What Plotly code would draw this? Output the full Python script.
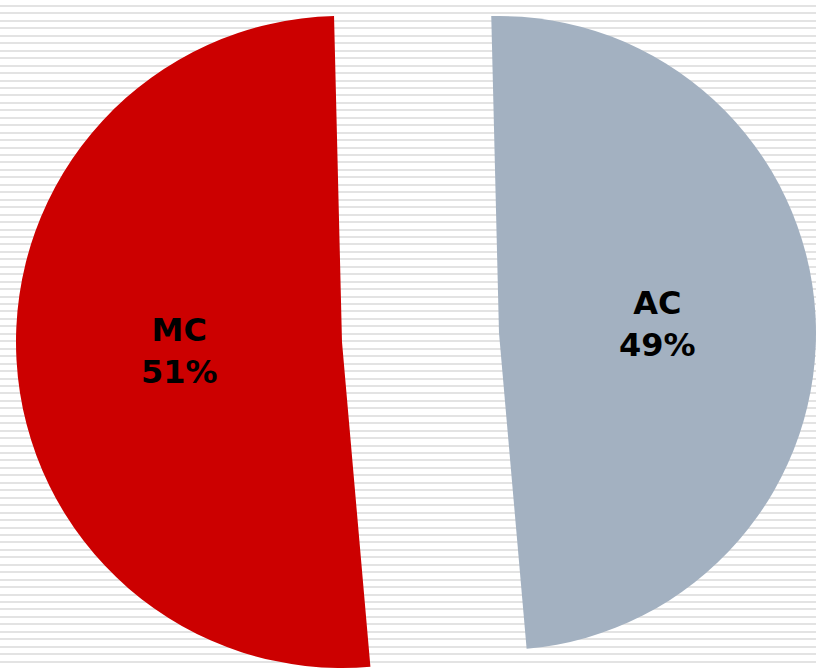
import plotly.graph_objects as go

labels = ["MC", "AC"]
values = [51, 49]
colors = ["#CC0000", "#A3B1C1"]

W, H = 816, 668
fig = go.Figure()

# invisible trace to hold the striped background axes
fig.add_trace(go.Scatter(x=[0], y=[0], mode="markers", marker=dict(opacity=0),
                         hoverinfo="skip", showlegend=False))

def pie_for(idx, cx, cy, r):
    cols = [c if i == idx else "rgba(0,0,0,0)" for i, c in enumerate(colors)]
    tmpl = ["<b>%{label}<br>%{percent:.0%}</b>" if i == idx else "" for i in range(len(labels))]
    return go.Pie(
        labels=labels, values=values, sort=False, direction="counterclockwise",
        rotation=175,
        marker=dict(colors=cols, line=dict(width=0)),
        texttemplate=tmpl, textposition="inside", insidetextorientation="horizontal",
        textfont=dict(family="DejaVu Sans", size=32, color="black"),
        hoverinfo="skip", showlegend=False,
        domain=dict(x=[(cx - r) / W, (cx + r) / W], y=[1 - (cy + r) / H, 1 - (cy - r) / H]),
    )

fig.add_trace(pie_for(0, 342, 342, 326))
fig.add_trace(pie_for(1, 499, 333, 317))

fig.update_layout(
    width=W, height=H, margin=dict(l=0, r=0, t=0, b=0),
    paper_bgcolor="white", plot_bgcolor="white",
    xaxis=dict(visible=False, range=[0, W], domain=[0, 1]),
    yaxis=dict(range=[H, 0], domain=[0, 1], showgrid=True, gridcolor="#E3E3E3", gridwidth=2,
               tick0=6, dtick=7.45, showticklabels=False, zeroline=False, showline=False, ticks=""),
)

fig.write_html("out.html", config={"displayModeBar": False},
               post_script="document.body.style.margin='0';")
